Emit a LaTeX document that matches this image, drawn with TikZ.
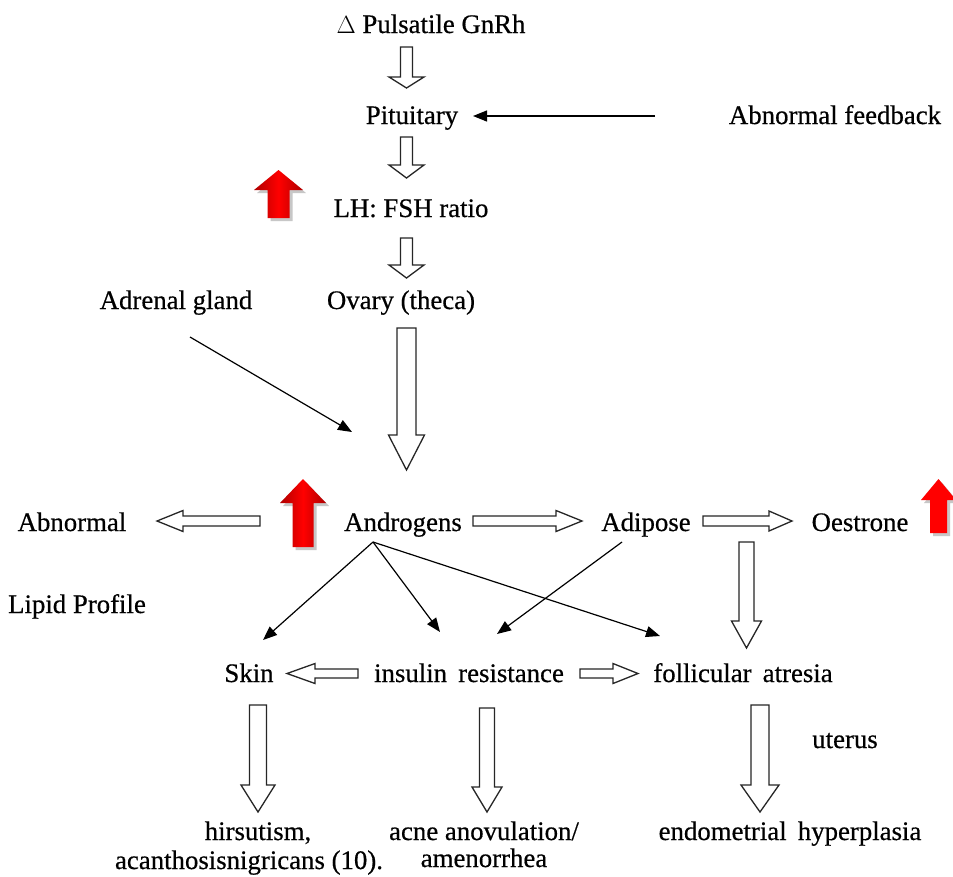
\documentclass[tikz,border=0pt]{standalone}
\usepackage{fontspec}
\setmainfont[FakeBold=0.5]{Liberation Serif}
\usetikzlibrary{arrows.meta,calc}
\newcommand\hvarrow[6]{% x, ytail, ybase, ytip, bodyhalf, headhalf
  \draw[hollow] (#1-#5,#2) -- (#1+#5,#2) -- (#1+#5,#3) -- (#1+#6,#3) -- (#1,#4) -- (#1-#6,#3) -- (#1-#5,#3) -- cycle;}
\newcommand\hharrow[6]{% y, xtail, xbase, xtip, bodyhalf, headhalf
  \draw[hollow] (#2,#1-#5) -- (#3,#1-#5) -- (#3,#1-#6) -- (#4,#1) -- (#3,#1+#6) -- (#3,#1+#5) -- (#2,#1+#5) -- cycle;}
\newcommand\redpath[6]{% x, ytop, ybase, ybottom, bodyhalf, headhalf
  (#1,#2) -- (#1+#6,#3) -- (#1+#5,#3) -- (#1+#5,#4) -- (#1-#5,#4) -- (#1-#5,#3) -- (#1-#6,#3) -- cycle}
\newcommand\redup[6]{%
  \fill[gray!55,opacity=0.8,shift={(3,3)}] \redpath{#1}{#2}{#3}{#4}{#5}{#6};
  \shade[left color=darkred,right color=darkred,middle color=red] \redpath{#1}{#2}{#3}{#4}{#5}{#6};}
\definecolor{darkred}{RGB}{175,0,0}
\begin{document}
\begin{tikzpicture}[x=1pt,y=-1pt,
  lbl/.style={anchor=base,inner sep=0pt,font=\fontsize{26.8}{30}\selectfont},
  hollow/.style={draw=black!85,line width=1.3pt,fill=white,line join=miter},
  thin/.style={draw=black,line width=1.2pt,-{Triangle[length=14pt,width=11pt]}}]
\useasboundingbox[fill=white] (0,0) rectangle (953,876);

% text nodes
\node[lbl] (gnrh)   at (431,33)  {$\Delta$ Pulsatile GnRh};
\node[lbl] (pit)    at (412,124) {Pituitary};
\node[lbl] (abfb)   at (835,124) {Abnormal feedback};
\node[lbl] (lhfsh)  at (411,217) {LH: FSH ratio};
\node[lbl] (adrenal) at (176,309) {Adrenal gland};
\node[lbl] (ovary)  at (401,309) {Ovary (theca)};
\node[lbl] (abn)    at (72,531)  {Abnormal};
\node[lbl] (andr)   at (403,531) {Androgens};
\node[lbl] (adip)   at (646,531) {Adipose};
\node[lbl] (oest)   at (860,531) {Oestrone};
\node[lbl] (lipid)  at (77,613)  {Lipid Profile};
\node[lbl] (skin)   at (249,682) {Skin};
\node[lbl] (ins)    at (469,682) {insulin\, resistance};
\node[lbl] (foll)   at (743,682) {follicular\, atresia};
\node[lbl] (uterus) at (845,748) {uterus};
\node[lbl] (hirs)   at (258,840) {hirsutism,};
\node[lbl] (acan)   at (249,869) {acanthosisnigricans (10).};
\node[lbl] (acne)   at (484,840) {acne anovulation/};
\node[lbl] (amen)   at (484,867) {amenorrhea};
\node[lbl] (endo)   at (790,840) {endometrial\, hyperplasia};

% red up arrows
\redup{278.5}{170}{190}{218}{11}{24.5}
\redup{303}{479}{503}{547}{10.5}{23}
\fill[gray!55,opacity=0.8,shift={(3,3)}] \redpath{938.5}{479}{500}{533}{8.5}{17.5};
\fill[red] \redpath{938.5}{479}{500}{533}{8.5}{17.5};

% hollow block arrows
\hvarrow{406.5}{47}{77}{88}{6}{17.5}
\hvarrow{406.5}{137}{165}{178}{6}{17.5}
\hvarrow{406.5}{238}{265}{278}{6}{17.5}
\hvarrow{406.5}{328}{435}{470}{9.5}{18}
\hvarrow{746.5}{542}{621}{648}{7.5}{15}
\hvarrow{258}{705}{785}{812}{8.5}{17}
\hvarrow{487}{708}{787}{812}{7.5}{15}
\hvarrow{760}{705}{785}{812}{9}{19}
\hharrow{521}{260}{183}{157}{5}{10.5}
\hharrow{521}{473}{556}{582}{5}{10.5}
\hharrow{521}{703}{769}{792}{5}{10}
\hharrow{673.5}{358}{315}{287}{4.5}{10}
\hharrow{673.5}{580}{613}{638}{4.5}{10}

% thin arrows
\coordinate (adrEnd) at (352,432);
\draw[thin] ($(abfb.base)+(-180,-8)$) -- ($(pit.base)+(61,-8)$);
\draw[thin] ($(adrenal.base)+(14,28)$) -- (adrEnd);
\draw[thin] ($(andr.base)+(-30,11)$) -- ($(skin.base)+(14,-42)$);
\draw[thin] ($(andr.base)+(-30,11)$) -- ($(ins.base)+(-29,-50)$);
\draw[thin] ($(andr.base)+(-30,11)$) -- ($(foll.base)+(-83,-46)$);
\draw[thin] ($(adip.base)+(-24,11)$) -- ($(ins.base)+(28,-48)$);
\end{tikzpicture}
\end{document}
